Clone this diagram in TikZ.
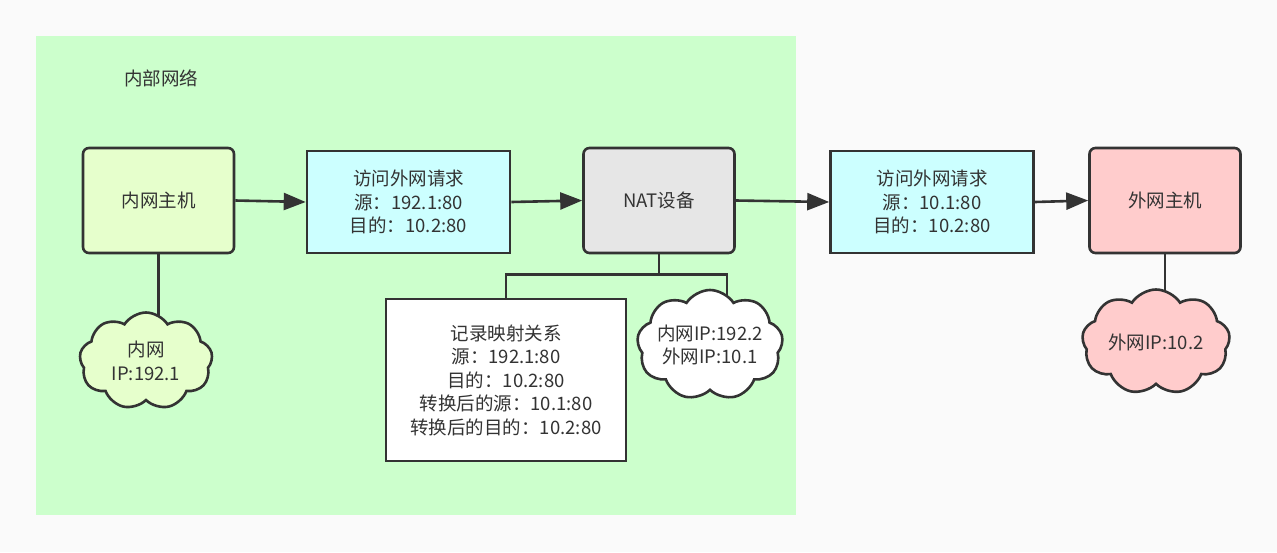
\documentclass[tikz,border=0pt]{standalone}
\usepackage{fontspec}
\setmainfont{Noto Sans CJK SC}
\usetikzlibrary{arrows.meta,shapes.symbols}
\definecolor{pagebg}{HTML}{FAFAFA}
\definecolor{lanbg}{HTML}{CCFFCC}
\definecolor{hostgreen}{HTML}{E6FFCC}
\definecolor{reqcyan}{HTML}{CCFFFF}
\definecolor{natgray}{HTML}{E6E6E6}
\definecolor{hostpink}{HTML}{FFCCCC}
\definecolor{ink}{HTML}{333333}
\pgfdeclarelayer{edges}
\pgfsetlayers{edges,main}
\tikzset{
  txt/.style={text=ink,font=\fontsize{18.5}{23.5}\selectfont,align=center},
  host/.style={txt,draw=ink,line width=2.6pt,rounded corners=6pt,minimum width=151pt,minimum height=105pt},
  reqbox/.style={txt,draw=ink,line width=2.6pt,fill=reqcyan,minimum width=203pt,minimum height=102pt},
  ipcloud/.style={txt,cloud,cloud puffs=9,cloud puff arc=115,cloud ignores aspect,draw=ink,line width=2.6pt,inner xsep=-16pt,inner ysep=-2pt},
  link/.style={draw=ink,line width=2.6pt},
  flow/.style={link,-{Triangle[length=22pt,width=17pt]}}
}

\begin{document}
\begin{tikzpicture}[x=1pt,y=-1pt]
  \useasboundingbox (0,0) rectangle (1277,552);
  \begin{pgfonlayer}{edges}
    \fill[pagebg] (0,0) rectangle (1277,552);
    \fill[lanbg] (36,36) rectangle (796,515);
  \end{pgfonlayer}
  \node[txt] (lan) at (161,78) {内部网络};

  % hosts and NAT
  \node[host,fill=hostgreen] (inhost) at (158.5,200.5) {内网主机};
  \node[host,fill=natgray] (nat) at (659,200.5) {NAT设备};
  \node[host,fill=hostpink] (outhost) at (1165,200.5) {外网主机};

  % requests
  \node[reqbox] (req1) at (408.5,202) {访问外网请求\\源：192.1:80\\目的：10.2:80};
  \node[reqbox] (req2) at (932,202) {访问外网请求\\源：10.1:80\\目的：10.2:80};

  % mapping table
  \node[txt,draw=ink,line width=2.6pt,fill=white,minimum width=240pt,minimum height=162pt] (record) at (506,380)
    {记录映射关系\\源：192.1:80\\目的：10.2:80\\转换后的源：10.1:80\\转换后的目的：10.2:80};

  % address clouds
  \node[ipcloud,fill=hostgreen,minimum width=133pt,minimum height=97pt] (cloud1) at (146,361) {内网\\IP:192.1};
  \node[ipcloud,fill=white,minimum width=146pt,minimum height=110pt] (cloud2) at (710,345) {内网IP:192.2\\外网IP:10.1};
  \node[ipcloud,fill=hostpink,minimum width=148pt,minimum height=105pt] (cloud3) at (1156,342) {外网IP:10.2};

  \draw[flow] (inhost.east) -- (req1.west);
  \draw[flow] (req1.east) -- (nat.west);
  \draw[flow] (nat.east) -- (req2.west);
  \draw[flow] (req2.east) -- (outhost.west);

  \begin{pgfonlayer}{edges}
    \draw[link] (inhost.south) -- (inhost.south |- cloud1.center);
    \draw[link] (outhost.south) -- (outhost.south |- cloud3.center);
    \draw[link] (nat.south) -- ++(0,20) coordinate (fork);
    \draw[link] (record.north) |- (fork) -| ([xshift=17pt]cloud2.center);
  \end{pgfonlayer}
\end{tikzpicture}
\end{document}
